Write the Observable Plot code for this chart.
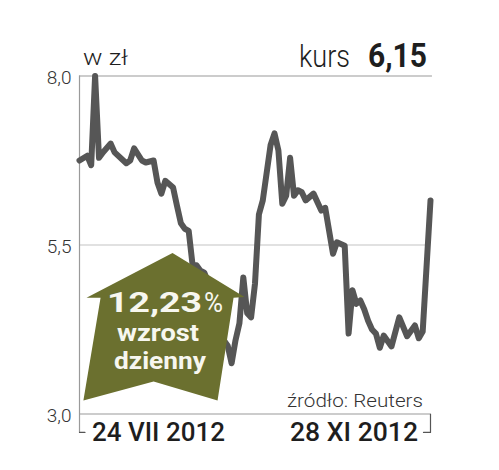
<!DOCTYPE html>
<html><head><meta charset="utf-8">
<script src="https://cdn.jsdelivr.net/npm/d3@7"></script>
<script src="https://cdn.jsdelivr.net/npm/@observablehq/plot@0.6"></script>
<style>body{margin:0;background:#fff}</style>
</head><body><div id="chart"></div>
<script>
// trading session index (0 = 24 VII 2012, 90 = 28 XI 2012)
const session = [0,2,3,4,5,6,8,9,12,13,14,16,17,19,20,21,22,24,25,26,27,28,29,30,31,32,34,36,37,38,39,40,41,42,43,44,45,46,47,49,50,51,52,53,54,55,56,57,58,60,62,63,65,66,68,69,70,71,72,73,74,75,76,77,78,80,82,84,86,87,88,90];
const price   = [6.75,6.82,6.68,8.0,6.79,6.87,7.0,6.87,6.71,6.75,6.93,6.75,6.72,6.75,6.42,6.26,6.45,6.35,6.08,5.82,5.74,5.71,5.20,5.20,5.12,5.09,4.80,4.40,4.09,4.01,3.75,4.09,4.34,5.02,4.49,4.43,4.93,5.95,6.16,6.98,7.15,6.90,6.11,6.23,6.79,6.23,6.31,6.28,6.16,6.26,6.01,6.05,5.37,5.54,5.49,4.19,4.83,4.63,4.68,4.55,4.38,4.25,4.19,3.98,4.16,4.00,4.43,4.15,4.31,4.12,4.22,6.16];
const yTicks = [3, 5.5, 8];
const dateLabels = ["24 VII 2012", "28 XI 2012"];
const unitLabel = "w zł";
const kursLabel = "kurs";
const kursValue = "6,15";
const sourceLabel = "źródło: Reuters";
const changeValue = "12,23";
const changeText = ["wzrost", "dzienny"];
// arrow annotation outline in data units (session, price)
const arrowX = [23.85, 42.3, 39.5, 35.4, 19.0, 1.0, 5.4, 1.8];
const arrowY = [5.38, 4.73, 4.72, 3.20, 3.48, 3.20, 4.72, 4.72];

const data = session.map((s, i) => ({s, p: price[i]}));
const arrow = arrowX.map((x, i) => ({x, y: arrowY[i]}));
const yBottom = 2.727;

const chart = Plot.plot({
  width: 499, height: 470,
  marginLeft: 79, marginRight: 69, marginTop: 75.5, marginBottom: 56.5,
  x: {domain: [0, 90], axis: null},
  y: {domain: [3, 8], axis: null},
  style: {fontFamily: "Roboto", background: "#fff", overflow: "visible"},
  marks: [
    Plot.ruleY([5.5], {stroke: "#c4c4c4", strokeWidth: 1.2}),
    Plot.ruleY([8], {x1: 0, x2: 90.5, stroke: "#9a9a9a", strokeWidth: 1.2}),
    Plot.ruleY([3], {stroke: "#9a9a9a", strokeWidth: 1.2}),
    Plot.ruleX([0], {y1: 8, y2: yBottom, stroke: "#9a9a9a", strokeWidth: 1.2}),
    Plot.line([{x:0,y:yBottom},{x:1.4,y:yBottom}], {x:"x", y:"y", stroke:"#555", strokeWidth:1.2}),
    Plot.line([{x:90,y:3},{x:90,y:yBottom},{x:88.2,y:yBottom}], {x:"x", y:"y", stroke:"#555", strokeWidth:1.2}),
    Plot.text(yTicks, {x: 0, y: d => d, text: d => d.toFixed(1).replace(".", ","), textAnchor: "end", dx: -8, dy: 2, fontSize: 19, fontWeight: 300, fill: "#333"}),
    Plot.line(data, {x: "s", y: "p", stroke: "#565656", strokeWidth: 6, strokeLinejoin: "round", strokeLinecap: "round"}),
    Plot.line(arrow, {x: "x", y: "y", fill: "#6b702f", stroke: "none", curve: "linear-closed"})
  ]
});
document.getElementById("chart").appendChild(chart);

const svg = d3.select(chart);
function txt(x, y, s, size, weight, anchor, len, fill) {
  const t = svg.append("text").attr("x", x).attr("y", y).attr("font-family", "Roboto")
    .attr("font-size", size).attr("font-weight", weight).attr("text-anchor", anchor)
    .attr("fill", fill || "#1e1e1e").text(s);
  if (len) t.attr("textLength", len).attr("lengthAdjust", "spacingAndGlyphs");
  return t;
}
txt(83, 65, unitLabel, 22, 300, "start", 45);
txt(299, 67, kursLabel, 32, 300, "start", 51);
txt(368, 67, kursValue, 33, 700, "start", 59);
txt(287, 407, sourceLabel, 18, 300, "start", 136, "#333");
txt(92, 441, dateLabels[0], 26, 500, "start", 133);
txt(290, 441, dateLabels[1], 26, 500, "start", 128);
txt(107, 312, changeValue, 28, 700, "start", 95, "#f7f7ef");
txt(204, 312, "%", 27, 400, "start", 19, "#f7f7ef");
txt(117, 341, changeText[0], 24, 700, "start", 82, "#f7f7ef");
txt(114, 369, changeText[1], 24, 700, "start", 92, "#f7f7ef");
</script>
</body></html>
